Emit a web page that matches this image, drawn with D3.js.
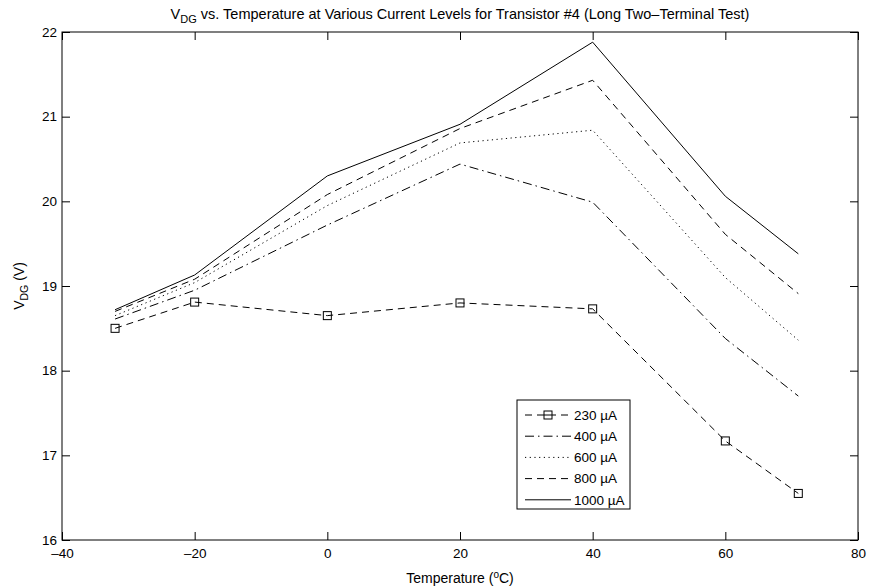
<!DOCTYPE html>
<html>
<head>
<meta charset="utf-8">
<script src="https://cdn.jsdelivr.net/npm/d3@7"></script>
<style>
html,body{margin:0;padding:0;background:#fff;}
svg{display:block;}
text{font-family:"Liberation Sans",Arial,Helvetica,sans-serif;fill:#000;}
</style>
</head>
<body>
<svg id="chart" width="873" height="588"></svg>
<script>
const temps = [-32, -20, 0, 20, 40, 60, 71];
const v230  = [18.50, 18.81, 18.65, 18.80, 18.73, 17.17, 16.55];
const v400  = [18.61, 18.95, 19.72, 20.44, 19.99, 18.38, 17.70];
const v600  = [18.65, 19.04, 19.95, 20.69, 20.84, 19.10, 18.36];
const v800  = [18.70, 19.08, 20.08, 20.86, 21.43, 19.61, 18.91];
const v1000 = [18.72, 19.13, 20.30, 20.91, 21.88, 20.06, 19.38];
const seriesNames = ["230 \u00b5A", "400 \u00b5A", "600 \u00b5A", "800 \u00b5A", "1000 \u00b5A"];
const xTicks = [-40, -20, 0, 20, 40, 60, 80];
const yTicks = [16, 17, 18, 19, 20, 21, 22];

const series = [
  {name: seriesNames[0], vals: v230,  dash: "7,5",   marker: true},
  {name: seriesNames[1], vals: v400,  dash: "9,4,1.5,4", marker: false},
  {name: seriesNames[2], vals: v600,  dash: "1.2,3.5", marker: false},
  {name: seriesNames[3], vals: v800,  dash: "7,5",   marker: false},
  {name: seriesNames[4], vals: v1000, dash: null,    marker: false}
];

const L = 62, R = 858, T = 32, B = 540;
const svg = d3.select("#chart");
const x = d3.scaleLinear().domain([-40, 80]).range([L, R]);
const y = d3.scaleLinear().domain([16, 22]).range([B, T]);
const fmt = d => (d < 0 ? "\u2013" + Math.abs(d) : String(d));

// Axes (box with inward ticks on all sides)
const tl = 8;
svg.append("g").attr("transform", `translate(0,${B})`)
  .call(d3.axisBottom(x).tickValues(xTicks).tickFormat(fmt).tickSizeInner(-tl).tickSizeOuter(0).tickPadding(8))
  .call(g => { g.select(".domain").remove(); g.selectAll("text").attr("font-size", 13.5).attr("dy", "0.71em"); });
svg.append("g").attr("transform", `translate(0,${T})`)
  .call(d3.axisTop(x).tickValues(xTicks).tickFormat("").tickSizeInner(-tl).tickSizeOuter(0))
  .call(g => g.select(".domain").remove());
svg.append("g").attr("transform", `translate(${L},0)`)
  .call(d3.axisLeft(y).tickValues(yTicks).tickFormat(fmt).tickSizeInner(-tl).tickSizeOuter(0).tickPadding(5))
  .call(g => { g.select(".domain").remove(); g.selectAll("text").attr("font-size", 13.5).attr("dy", "0.3em"); });
svg.append("g").attr("transform", `translate(${R},0)`)
  .call(d3.axisRight(y).tickValues(yTicks).tickFormat("").tickSizeInner(-tl).tickSizeOuter(0))
  .call(g => g.select(".domain").remove());
svg.selectAll(".tick line").attr("stroke", "#000");
svg.append("rect").attr("x", L).attr("y", T).attr("width", R - L).attr("height", B - T)
  .attr("fill", "none").attr("stroke", "#000").attr("stroke-width", 1);

// Lines
const line = d3.line().x(d => x(d[0])).y(d => y(d[1]));
series.forEach(s => {
  const pts = temps.map((t, i) => [t, s.vals[i]]);
  svg.append("path").datum(pts).attr("d", line)
    .attr("fill", "none").attr("stroke", "#000").attr("stroke-width", 1)
    .attr("stroke-dasharray", s.dash);
  if (s.marker) {
    svg.selectAll(null).data(pts).enter().append("rect")
      .attr("x", d => x(d[0]) - 4).attr("y", d => y(d[1]) - 4)
      .attr("width", 8).attr("height", 8)
      .attr("fill", "none").attr("stroke", "#000").attr("stroke-width", 1);
  }
});

// Legend
const lg = svg.append("g");
lg.append("rect").attr("x", 517).attr("y", 400).attr("width", 113).attr("height", 109)
  .attr("fill", "#fff").attr("stroke", "#000").attr("stroke-width", 1);
series.forEach((s, i) => {
  const yy = 415 + i * 21.2;
  lg.append("line").attr("x1", 525).attr("x2", 571).attr("y1", yy).attr("y2", yy)
    .attr("stroke", "#000").attr("stroke-width", 1).attr("stroke-dasharray", s.dash);
  if (s.marker) {
    lg.append("rect").attr("x", 544).attr("y", yy - 4).attr("width", 8).attr("height", 8)
      .attr("fill", "#fff").attr("stroke", "#000");
    lg.append("line").attr("x1", 544).attr("x2", 552).attr("y1", yy).attr("y2", yy).attr("stroke", "#000");
  }
  lg.append("text").attr("x", 574).attr("y", yy).attr("dy", "0.35em")
    .attr("font-size", 13.5).text(s.name);
});

// Title
const title = svg.append("text").attr("x", (L + R) / 2).attr("y", 19)
  .attr("text-anchor", "middle").attr("font-size", 14.5);
title.append("tspan").text("V");
title.append("tspan").attr("font-size", 11).attr("dy", 4).text("DG");
title.append("tspan").attr("dy", -4).text(" vs. Temperature at Various Current Levels for Transistor #4 (Long Two\u2013Terminal Test)");

// X label
const xl = svg.append("text").attr("x", (L + R) / 2).attr("y", 583)
  .attr("text-anchor", "middle").attr("font-size", 14);
xl.append("tspan").text("Temperature (");
xl.append("tspan").attr("font-size", 10).attr("dy", -5).text("o");
xl.append("tspan").attr("dy", 5).text("C)");

// Y label
const yl = svg.append("text").attr("transform", `translate(24,${(T + B) / 2}) rotate(-90)`)
  .attr("text-anchor", "middle").attr("font-size", 14);
yl.append("tspan").text("V");
yl.append("tspan").attr("font-size", 10.5).attr("dy", 4).text("DG");
yl.append("tspan").attr("dy", -4).text(" (V)");
</script>
</body>
</html>
